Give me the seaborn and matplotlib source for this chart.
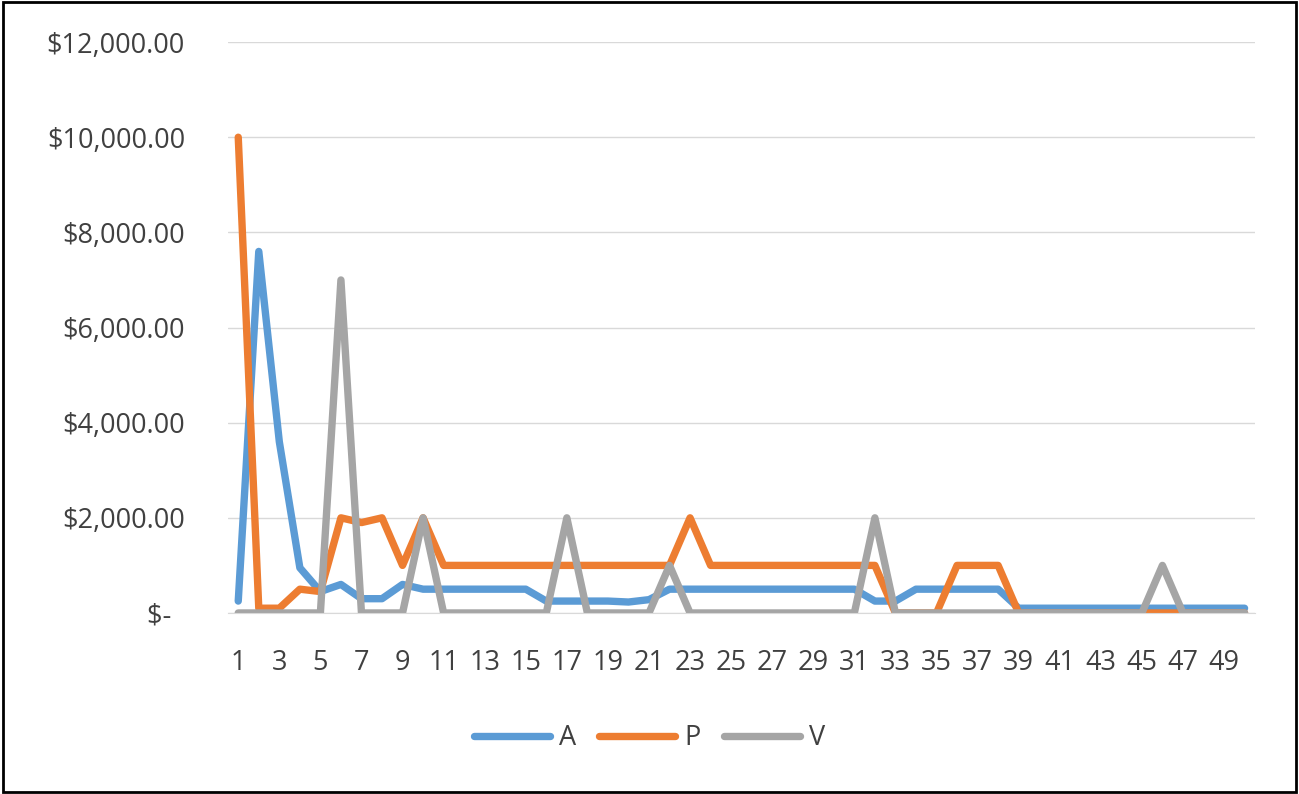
import matplotlib
matplotlib.use("Agg")
import matplotlib.pyplot as plt
import matplotlib.ticker as mticker
import seaborn as sns
import pandas as pd
from matplotlib.patches import Rectangle

# values
periods = list(range(1, 51))
a_vals = [250, 7600, 3600, 950, 450, 600, 300, 300, 600, 500,
          500, 500, 500, 500, 500, 250, 250, 250, 250, 230,
          280, 500, 500, 500, 500, 500, 500, 500, 500, 500,
          500, 250, 250, 500, 500, 500, 500, 500, 100, 100,
          100, 100, 100, 100, 100, 100, 100, 100, 100, 100]
p_vals = [10000, 100, 100, 500, 450, 2000, 1900, 2000, 1000, 2000,
          1000, 1000, 1000, 1000, 1000, 1000, 1000, 1000, 1000, 1000,
          1000, 1000, 2000, 1000, 1000, 1000, 1000, 1000, 1000, 1000,
          1000, 1000, 0, 0, 0, 1000, 1000, 1000, 0, 0,
          0, 0, 0, 0, 0, 0, 0, 0, 0, 0]
v_vals = [0, 0, 0, 0, 0, 7000, 0, 0, 0, 2000,
          0, 0, 0, 0, 0, 0, 2000, 0, 0, 0,
          0, 1000, 0, 0, 0, 0, 0, 0, 0, 0,
          0, 2000, 0, 0, 0, 0, 0, 0, 0, 0,
          0, 0, 0, 0, 0, 1000, 0, 0, 0, 0]
series_names = ["A", "P", "V"]
colors = ["#5B9BD5", "#ED7D31", "#A5A5A5"]
y_ticks = [0, 2000, 4000, 6000, 8000, 10000, 12000]

df = pd.DataFrame({
    "period": periods * 3,
    "value": a_vals + p_vals + v_vals,
    "series": [s for s in series_names for _ in periods],
})

sns.set_style("white")
plt.rcParams["font.family"] = ["Open Sans", "DejaVu Sans"]

fig = plt.figure(figsize=(12.99, 7.94), dpi=100)
ax = fig.add_axes([0.1755, 0.228, 0.7905, 0.719])

sns.lineplot(data=df, x="period", y="value", hue="series",
             hue_order=series_names, palette=colors, linewidth=5.3,
             ax=ax, legend=False)
for line in ax.get_lines():
    line.set_solid_capstyle("round")
    line.set_solid_joinstyle("round")

ax.set_xlim(0.5, 50.5)
ax.set_ylim(0, 12000)
ax.set_yticks(y_ticks)
ax.yaxis.set_major_formatter(mticker.FuncFormatter(
    lambda v, _: "$-  " if v == 0 else f"${v:,.2f}"))
ax.set_xticks(periods[::2])
ax.set_xticks([p + 0.5 for p in range(0, 51)], minor=True)
ax.tick_params(axis="x", which="major", length=0, pad=26,
               labelsize=19.5, labelcolor="#404040")
ax.tick_params(axis="x", which="minor", length=7, color="#d9d9d9", width=1)
ax.tick_params(axis="y", length=0, pad=31, labelsize=19.5, labelcolor="#404040")
ax.grid(axis="y", color="#d9d9d9", linewidth=1)
ax.set_axisbelow(True)
for side in ["left", "right", "top"]:
    ax.spines[side].set_visible(False)
ax.spines["bottom"].set_color("#d9d9d9")
ax.set_xlabel("")
ax.set_ylabel("")

handles = [plt.Line2D([], [], color=c, linewidth=5.3, solid_capstyle="round")
           for c in colors]
fig.legend(handles, series_names, loc="center", bbox_to_anchor=(0.5, 0.07),
           ncol=3, frameon=False, fontsize=19.5, handlelength=2.8,
           handletextpad=0.35, columnspacing=0.85, labelcolor="#404040")

fig.patches.append(Rectangle((0.002, 0.003), 0.996, 0.994, transform=fig.transFigure,
                             fill=False, edgecolor="black", linewidth=2))

fig.savefig("out.png", dpi=100)
